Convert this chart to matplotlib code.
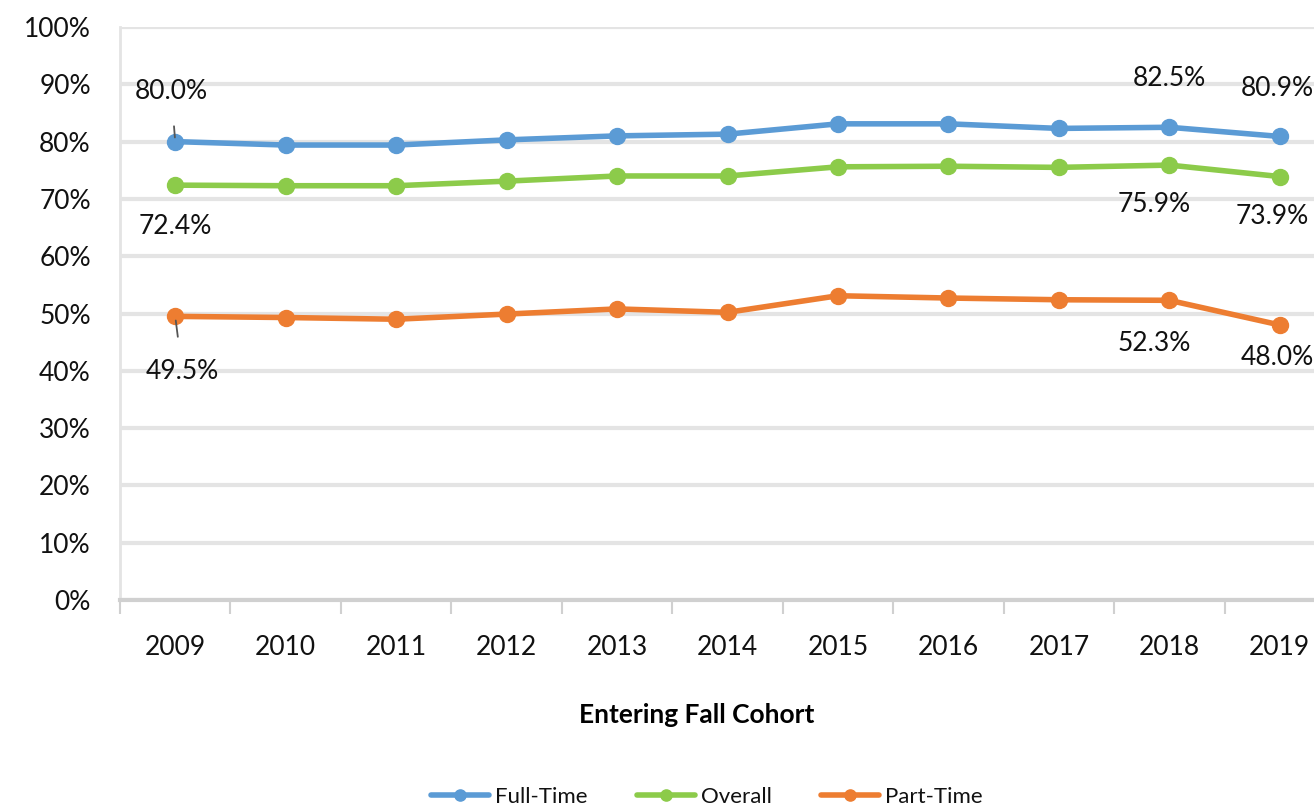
import numpy as np
import matplotlib.pyplot as plt

plt.rcParams['font.family'] = ['Lato', 'DejaVu Sans']

years = ["2009", "2010", "2011", "2012", "2013", "2014", "2015", "2016", "2017", "2018", "2019"]
full_time = [80.0, 79.4, 79.4, 80.3, 81.0, 81.3, 83.1, 83.1, 82.3, 82.5, 80.9]
overall = [72.4, 72.3, 72.3, 73.1, 74.0, 74.0, 75.6, 75.7, 75.5, 75.9, 73.9]
part_time = [49.5, 49.3, 49.0, 49.9, 50.8, 50.2, 53.1, 52.7, 52.4, 52.3, 48.0]

# which points carry a value label, and where (offset in pixels from the point)
labels_ft = {0: (-4, 50), 9: (0, 49), 10: (-2, 48)}
labels_ov = {0: (0, -41), 9: (-15, -39), 10: (-8, -40)}
labels_pt = {0: (7, -55), 9: (-15, -43), 10: (-2, -33)}

c_ft = "#5B9BD5"
c_ov = "#8CCB4A"
c_pt = "#ED7D31"
grid_c = "#E4E4E4"
txt_c = "#111111"

W, H = 1314, 809
fig = plt.figure(figsize=(W / 100, H / 100), dpi=100)
ax = fig.add_axes([120 / W, (H - 600) / H, 1215 / W, 573 / H])

x = np.arange(len(years))
for vals, col, name in [(full_time, c_ft, "Full-Time"),
                        (overall, c_ov, "Overall"),
                        (part_time, c_pt, "Part-Time")]:
    ax.plot(x, vals, color=col, linewidth=4, marker="o", markersize=11.5,
            label=name, zorder=3, solid_capstyle="round")


def put_labels(vals, spec, leader=()):
    for i, (dx, dy) in spec.items():
        ax.annotate(f"{vals[i]:.1f}%", xy=(x[i], vals[i]), xytext=(dx, dy),
                    textcoords="offset pixels", ha="center", va="center",
                    fontsize=19, color=txt_c, zorder=5,
                    arrowprops=dict(arrowstyle="-", color="#555555", lw=1.3,
                                    shrinkA=14, shrinkB=3) if i in leader else None)


put_labels(full_time, labels_ft, leader=(0,))
put_labels(overall, labels_ov)
put_labels(part_time, labels_pt, leader=(0,))

ax.set_xlim(-0.5, len(years) - 0.5)
ax.set_ylim(0, 100)
ax.set_yticks(np.arange(0, 101, 10))
ax.set_yticklabels([f"{v}%" for v in range(0, 101, 10)])
ax.set_xticks(x)
ax.set_xticklabels(years)
ax.set_xticks(np.arange(-0.5, len(years), 1), minor=True)

ax.grid(axis="y", color=grid_c, linewidth=3, zorder=0)
ax.set_axisbelow(True)
for s in ["top", "right"]:
    ax.spines[s].set_visible(False)
ax.spines["left"].set_color(grid_c)
ax.spines["left"].set_linewidth(2)
ax.spines["bottom"].set_color("#D0D0D0")
ax.spines["bottom"].set_linewidth(3)

ax.tick_params(axis="y", length=0, pad=21, labelsize=19, labelcolor=txt_c)
ax.tick_params(axis="x", which="major", length=0, pad=25, labelsize=19, labelcolor=txt_c)
ax.tick_params(axis="x", which="minor", length=10, width=1.5, color="#D0D0D0")

fig.text(697 / W, 1 - 715 / H, "Entering Fall Cohort", ha="center", va="center",
         fontsize=19, fontweight="bold", color="#000000")

fig.legend(loc="center", bbox_to_anchor=(707 / W, 1 - 797 / H), ncol=3,
           frameon=False, fontsize=16, handlelength=2.6, columnspacing=2.2,
           handletextpad=0.3, markerscale=0.7, labelcolor=txt_c)

fig.savefig("out.png", dpi=100)
